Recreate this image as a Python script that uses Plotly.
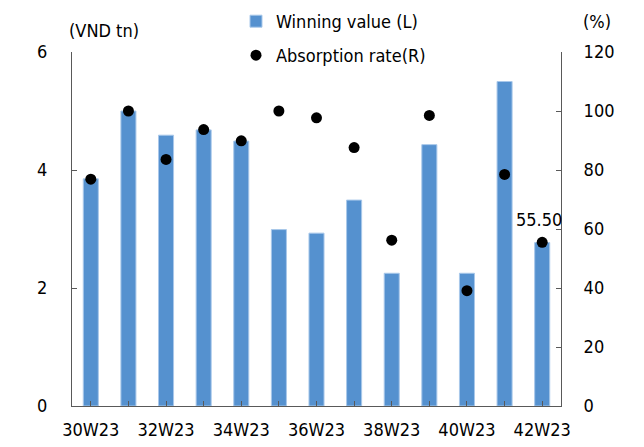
import plotly.graph_objects as go

weeks = ["30W23", "31W23", "32W23", "33W23", "34W23", "35W23", "36W23",
         "37W23", "38W23", "39W23", "40W23", "41W23", "42W23"]
winning_value = [3.85, 5.00, 4.59, 4.68, 4.49, 2.99, 2.93, 3.49, 2.25, 4.43, 2.25, 5.50, 2.77]
absorption_rate = [76.9, 100.0, 83.6, 93.7, 89.9, 100.0, 97.7, 87.6, 56.2, 98.5, 39.1, 78.5, 55.5]
tick_labels = ["30W23", "", "32W23", "", "34W23", "", "36W23", "", "38W23", "", "40W23", "", "42W23"]
left_ticks = [0, 2, 4, 6]
right_ticks = [0, 20, 40, 60, 80, 100, 120]

FONT = "DejaVu Sans Condensed, DejaVu Sans, sans-serif"
AXIS_COLOR = "#595959"

# page offset (browser body margin) compensation
OFF = 8
W, H = 644 - OFF, 447 - OFF
L, R, T, B = 72 - OFF, 83, 52 - OFF, 41
pw, ph = W - L - R, H - T - B


def px(xp):
    return (xp - OFF - L) / pw


def py(yp):
    return 1 + (T - (yp - OFF)) / ph


fig = go.Figure()
fig.add_trace(go.Bar(
    x=weeks, y=winning_value, name="Winning value (L)",
    marker=dict(color="#5591CF", line=dict(color="#A9C8EA", width=1)),
    width=0.4, yaxis="y", legend="legend", showlegend=True,
))
fig.add_trace(go.Scatter(
    x=weeks, y=absorption_rate, name="Absorption rate(R)", mode="markers",
    marker=dict(color="black", size=11), yaxis="y2", legend="legend2", showlegend=True,
))

fig.add_annotation(
    x=weeks[-1], y=absorption_rate[-1], xref="x", yref="y2",
    text=f"{absorption_rate[-1]:.2f}", showarrow=False,
    yshift=23, xshift=-3, font=dict(size=18, color="black", family=FONT),
)
fig.add_annotation(
    x=px(104), y=py(30), xref="paper", yref="paper", text="(VND tn)", showarrow=False,
    xanchor="center", yanchor="middle",
    font=dict(size=18, color="black", family=FONT),
)
fig.add_annotation(
    x=px(597), y=py(21), xref="paper", yref="paper", text="(%)", showarrow=False,
    xanchor="center", yanchor="middle",
    font=dict(size=18, color="black", family=FONT),
)

fig.update_layout(
    width=W, height=H,
    margin=dict(l=L, r=R, t=T, b=B, autoexpand=False),
    paper_bgcolor="white", plot_bgcolor="white",
    font=dict(family=FONT, size=18, color="black"),
    showlegend=True,
    xaxis=dict(
        type="category", range=[-0.5, len(weeks) - 0.5],
        tickmode="array", tickvals=weeks, ticktext=tick_labels,
        ticks="inside", ticklen=5, tickcolor=AXIS_COLOR,
        showline=True, linecolor=AXIS_COLOR, linewidth=1,
        showgrid=False, zeroline=False, ticklabelstandoff=7,
        tickfont=dict(size=18),
    ),
    yaxis=dict(
        range=[0, 6], tickvals=left_ticks, ticks="inside", ticklen=5,
        tickcolor=AXIS_COLOR, showline=True, linecolor=AXIS_COLOR, linewidth=1,
        showgrid=False, zeroline=False, ticklabelstandoff=20,
        tickfont=dict(size=18),
    ),
    yaxis2=dict(
        range=[0, 120], tickvals=right_ticks, ticks="inside", ticklen=5,
        tickcolor=AXIS_COLOR, showline=True, linecolor=AXIS_COLOR, linewidth=1,
        showgrid=False, zeroline=False, overlaying="y", side="right",
        ticklabelstandoff=18, tickfont=dict(size=18),
    ),
    legend=dict(
        x=px(236), y=py(3), xanchor="left", yanchor="top",
        bgcolor="rgba(0,0,0,0)", font=dict(size=18), itemwidth=30,
    ),
    legend2=dict(
        x=px(236), y=py(37), xanchor="left", yanchor="top",
        bgcolor="rgba(0,0,0,0)", font=dict(size=18), itemwidth=30,
    ),
)

fig.write_html("out.html")
